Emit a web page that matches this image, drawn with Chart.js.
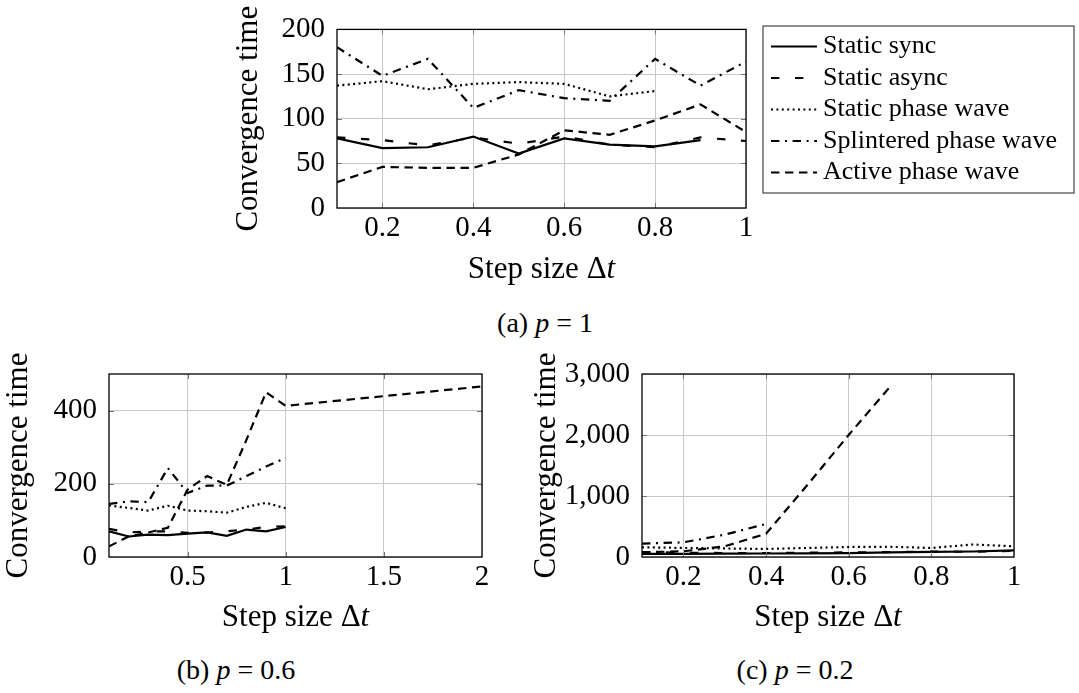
<!DOCTYPE html>
<html>
<head>
<meta charset="utf-8">
<script src="https://cdn.jsdelivr.net/npm/chart.js@4.4.1/dist/chart.umd.min.js"></script>
<style>
  html, body { margin: 0; padding: 0; background: #fff; }
  body { width: 1079px; height: 693px; position: relative; overflow: hidden;
         font-family: "Liberation Serif", serif; color: #000; }
  canvas { position: absolute; }
  .cap { position: absolute; font-size: 28px; white-space: nowrap;
         transform: translate(-50%, -50%); line-height: 1; }
</style>
</head>
<body>
<canvas id="chartA" width="849" height="300" style="left:230px;top:0px"></canvas>
<canvas id="chartB" width="500" height="300" style="left:0px;top:340px"></canvas>
<canvas id="chartC" width="551" height="300" style="left:528px;top:340px"></canvas>
<div class="cap" style="left:545px;top:323px">(a) <i>p</i> = 1</div>
<div class="cap" style="left:236px;top:670px">(b) <i>p</i> = 0.6</div>
<div class="cap" style="left:795px;top:670px">(c) <i>p</i> = 0.2</div>

<script>
// Series names, shared by all three panels
const seriesNames = ['Static sync', 'Static async', 'Static phase wave', 'Splintered phase wave', 'Active phase wave'];

// Step sizes Δt
const stepSizes = [0.1, 0.2, 0.3, 0.4, 0.5, 0.6, 0.7, 0.8, 0.9, 1.0];
const stepSizesLong = [0.1, 0.2, 0.3, 0.4, 0.5, 0.6, 0.7, 0.8, 0.9, 1.0, 2.0];

// (a) p = 1
const syncA       = [78, 67, 68, 80, 61, 78, 71, 69, 76];
const asyncA      = [79, 76, 70, 79, 72, 80, 71, 68, 79, 75];
const staticWaveA = [137, 142, 133, 139, 141, 139, 125, 131];
const splinterA   = [180, 148, 167, 112, 132, 123, 120, 167, 137, 164];
const activeA     = [29, 46, 45, 45, 60, 87, 82, 98, 116, 85];

// (b) p = 0.6
const syncB       = [70, 56, 61, 60, 64, 67, 58, 75, 70, 82];
const asyncB      = [77, 67, 70, 70, 66, 67, 70, 75, 82, 84];
const staticWaveB = [141, 134, 127, 140, 127, 125, 121, 137, 148, 133];
const splinterB   = [145, 152, 150, 243, 175, 195, 195, 221, 247, 271];
const activeB     = [29, 56, 67, 80, 184, 221, 197, 320, 450, 413, 466];

// (c) p = 0.2
const syncC       = [50, 52, 55, 57, 60, 65, 75, 85, 90, 108];
const asyncC      = [80, 70, 65, 65, 70, 75, 80, 90, 85, 100];
const staticWaveC = [160, 148, 140, 132, 148, 164, 168, 148, 205, 175];
const splinterC   = [219, 240, 366, 541];
const activeC     = [77, 93, 175, 380, 1180, 2000, 2790];

// Tick labels
const xTicksA = [0.2, 0.4, 0.6, 0.8, 1];
const yTicksA = [0, 50, 100, 150, 200];
const xTicksB = [0.5, 1, 1.5, 2];
const yTicksB = [0, 200, 400];
const xTicksC = [0.2, 0.4, 0.6, 0.8, 1];
const yTicksC = [0, 1000, 2000, 3000];

const FONT = "'Liberation Serif', serif";
const lineStyles = [
  [],                    // solid
  [8.4, 15.6],           // loosely dashed
  [2, 3.4],              // dotted
  [8.4, 5.6, 2, 5.6],    // dash-dot
  [8.4, 5.6]             // densely dashed
];

function pairs(xs, ys) {
  return ys.map((y, i) => ({ x: xs[i], y }));
}

// Axis box with inward tick marks
const framePlugin = {
  id: 'frame',
  afterDraw(chart) {
    const { ctx, chartArea: a } = chart;
    const xs = chart.scales.x, ys = chart.scales.y;
    ctx.save();
    ctx.strokeStyle = '#777';
    ctx.lineWidth = 1;
    ctx.beginPath();
    xs.ticks.forEach(t => {
      const px = Math.round(xs.getPixelForValue(t.value)) + 0.5;
      if (px <= a.left + 1 || px >= a.right - 1) return;
      ctx.moveTo(px, a.bottom); ctx.lineTo(px, a.bottom - 5);
      ctx.moveTo(px, a.top); ctx.lineTo(px, a.top + 5);
    });
    ys.ticks.forEach(t => {
      const py = Math.round(ys.getPixelForValue(t.value)) + 0.5;
      if (py <= a.top + 1 || py >= a.bottom - 1) return;
      ctx.moveTo(a.left, py); ctx.lineTo(a.left + 5, py);
      ctx.moveTo(a.right, py); ctx.lineTo(a.right - 5, py);
    });
    ctx.stroke();
    ctx.strokeStyle = '#000';
    ctx.lineWidth = 1.3;
    ctx.strokeRect(a.left, a.top, a.right - a.left, a.bottom - a.top);
    ctx.restore();
  }
};

// "Step size Δt" with an italic t
const xTitlePlugin = {
  id: 'xTitle',
  afterDraw(chart, args, opts) {
    const { ctx } = chart;
    const s = chart.scales.x;
    const up = `31px ${FONT}`, it = `italic 31px ${FONT}`;
    ctx.save();
    ctx.font = up; const w1 = ctx.measureText(opts.text).width;
    ctx.font = it; const w2 = ctx.measureText(opts.italic).width;
    const x0 = (s.left + s.right) / 2 - (w1 + w2) / 2;
    ctx.fillStyle = '#000';
    ctx.textAlign = 'left';
    ctx.textBaseline = 'middle';
    ctx.font = up; ctx.fillText(opts.text, x0, opts.y);
    ctx.font = it; ctx.fillText(opts.italic, x0 + w1, opts.y);
    ctx.restore();
  }
};

// Framed legend with line samples taken from the datasets
const legendPlugin = {
  id: 'legendBox',
  afterDraw(chart, args, o) {
    if (!o || !o.show) return;
    const { ctx } = chart;
    ctx.save();
    ctx.strokeStyle = '#444';
    ctx.lineWidth = 1.2;
    ctx.strokeRect(o.x, o.y, o.w, o.h);
    chart.data.datasets.forEach((ds, i) => {
      const y = o.y + o.first + i * o.gap;
      ctx.strokeStyle = ds.borderColor;
      ctx.lineWidth = ds.borderWidth;
      ctx.lineCap = 'butt';
      ctx.setLineDash(ds.borderDash);
      ctx.beginPath();
      ctx.moveTo(o.x + o.lineStart, y);
      ctx.lineTo(o.x + o.lineEnd, y);
      ctx.stroke();
      ctx.setLineDash([]);
      ctx.fillStyle = '#000';
      ctx.font = `26px ${FONT}`;
      ctx.textAlign = 'left';
      ctx.textBaseline = 'middle';
      ctx.fillText(ds.label, o.x + o.textX, y);
    });
    ctx.restore();
  }
};

function makeChart(id, cfg) {
  const datasets = cfg.series.map((s, i) => ({
    label: seriesNames[i],
    data: pairs(s.x, s.y),
    borderColor: '#000',
    backgroundColor: '#000',
    borderWidth: 2.2,
    borderDash: lineStyles[i],
    borderCapStyle: 'butt',
    borderJoinStyle: 'miter',
    pointRadius: 0,
    tension: 0,
    fill: false
  }));
  const tickFont = { family: FONT, size: 29 };
  return new Chart(document.getElementById(id), {
    type: 'line',
    data: { datasets },
    plugins: [framePlugin, xTitlePlugin, legendPlugin],
    options: {
      responsive: false,
      animation: false,
      events: [],
      layout: { padding: cfg.padding },
      plugins: {
        legend: { display: false },
        tooltip: { enabled: false },
        xTitle: { text: 'Step size Δ', italic: 't', y: cfg.xTitleY },
        legendBox: cfg.legend || { show: false }
      },
      scales: {
        x: {
          type: 'linear',
          min: cfg.xMin, max: cfg.xMax,
          afterBuildTicks: s => { s.ticks = cfg.xTicks.map(v => ({ value: v })); },
          afterFit: s => { s.height = cfg.xAxisHeight; },
          ticks: { font: tickFont, color: '#000', padding: 3, maxRotation: 0, autoSkip: false,
                   callback: v => String(v) },
          grid: { color: '#c8c8c8', lineWidth: 1, drawTicks: false },
          border: { display: false }
        },
        y: {
          type: 'linear',
          min: cfg.yMin, max: cfg.yMax,
          afterBuildTicks: s => { s.ticks = cfg.yTicks.map(v => ({ value: v })); },
          afterFit: s => { s.width = cfg.yAxisWidth; },
          ticks: { font: tickFont, color: '#000', padding: 12, autoSkip: false,
                   callback: v => v.toLocaleString('en-US') },
          grid: { color: '#c8c8c8', lineWidth: 1, drawTicks: false },
          border: { display: false },
          title: { display: true, text: 'Convergence time', color: '#000',
                   font: { family: FONT, size: 31 }, padding: { top: 0, bottom: 0 } }
        }
      }
    }
  });
}

// (a) p = 1
makeChart('chartA', {
  series: [
    { x: stepSizes, y: syncA },
    { x: stepSizes, y: asyncA },
    { x: stepSizes, y: staticWaveA },
    { x: stepSizes, y: splinterA },
    { x: stepSizes, y: activeA }
  ],
  xMin: 0.1, xMax: 1, yMin: 0, yMax: 200,
  xTicks: xTicksA, yTicks: yTicksA,
  padding: { top: 25, right: 333, bottom: 0, left: 0 },
  yAxisWidth: 107, xAxisHeight: 92, xTitleY: 270,
  legend: { show: true, x: 533, y: 26, w: 311, h: 167, first: 20.5, gap: 31.5,
            lineStart: 8, lineEnd: 54, textX: 60 }
});

// (b) p = 0.6
makeChart('chartB', {
  series: [
    { x: stepSizes, y: syncB },
    { x: stepSizes, y: asyncB },
    { x: stepSizes, y: staticWaveB },
    { x: stepSizes, y: splinterB },
    { x: stepSizesLong, y: activeB }
  ],
  xMin: 0.1, xMax: 2, yMin: 0, yMax: 500,
  xTicks: xTicksB, yTicks: yTicksB,
  padding: { top: 34, right: 18, bottom: 0, left: 0 },
  yAxisWidth: 109, xAxisHeight: 83, xTitleY: 278
});

// (c) p = 0.2
makeChart('chartC', {
  series: [
    { x: stepSizes, y: syncC },
    { x: stepSizes, y: asyncC },
    { x: stepSizes, y: staticWaveC },
    { x: stepSizes, y: splinterC },
    { x: stepSizes, y: activeC }
  ],
  xMin: 0.1, xMax: 1, yMin: 0, yMax: 3000,
  xTicks: xTicksC, yTicks: yTicksC,
  padding: { top: 34, right: 65, bottom: 0, left: 0 },
  yAxisWidth: 114, xAxisHeight: 83, xTitleY: 278
});
</script>
</body>
</html>
